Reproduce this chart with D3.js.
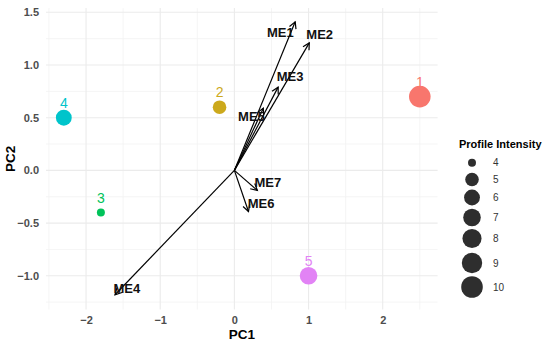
<!DOCTYPE html>
<html>
<head>
<meta charset="utf-8">
<script src="https://cdn.jsdelivr.net/npm/d3@7"></script>
<style>
  body { margin: 0; background: #fff; }
  text { font-family: "Liberation Sans", Arial, sans-serif; }
</style>
</head>
<body>
<script>
// samples (scores)
const sampleIds = ['1', '2', '3', '4', '5']
const pc1 = [2.5, -0.2, -1.8, -2.3, 1.0]
const pc2 = [0.7, 0.6, -0.4, 0.5, -1.0]
const intensity = [10, 5, 4, 6, 7]
const sampleColors = ['#F8766D', '#CCA91C', '#00C35A', '#00C4CB', '#E283F5']

// loadings (arrows)
const loadNames = ['ME1', 'ME2', 'ME3', 'ME4', 'ME5', 'ME6', 'ME7']
const loadX = [0.82, 1.01, 0.59, -1.61, 0.39, 0.19, 0.31]
const loadY = [1.41, 1.21, 0.79, -1.18, 0.59, -0.39, -0.19]
const labelX = [0.62, 1.15, 0.75, -1.45, 0.23, 0.36, 0.45]
const labelY = [1.31, 1.29, 0.89, -1.12, 0.51, -0.31, -0.11]

// axes + legend
const xTicks = [-2, -1, 0, 1, 2]
const yTicks = [-1.0, -0.5, 0.0, 0.5, 1.0, 1.5]
const legendBreaks = [4, 5, 6, 7, 8, 9, 10]

const width = 550
const height = 344

const svg = d3.select('body')
  .append('svg')
  .attr('width', width)
  .attr('height', height)

const x = d3.scaleLinear().domain([-2.54, 2.74]).range([46, 437.6])
const y = d3.scaleLinear().domain([-1.32, 1.54]).range([309.5, 8.1])
const r = d3.scaleSqrt().domain([0, 6]).range([4, 10.8])

// grid
const grid = svg.append('g')
const minorX = d3.range(-2.5, 2.75, 1)
const minorY = d3.range(-1.25, 1.5, 0.5)
grid.selectAll('.mx').data(minorX).enter().append('line')
  .attr('x1', d => x(d)).attr('x2', d => x(d))
  .attr('y1', y.range()[0]).attr('y2', y.range()[1])
  .attr('stroke', '#F2F2F2').attr('stroke-width', 0.8)
grid.selectAll('.my').data(minorY).enter().append('line')
  .attr('y1', d => y(d)).attr('y2', d => y(d))
  .attr('x1', x.range()[0]).attr('x2', x.range()[1])
  .attr('stroke', '#F2F2F2').attr('stroke-width', 0.8)
grid.selectAll('.gx').data(xTicks).enter().append('line')
  .attr('x1', d => x(d)).attr('x2', d => x(d))
  .attr('y1', y.range()[0]).attr('y2', y.range()[1])
  .attr('stroke', '#EBEBEB').attr('stroke-width', 1.1)
grid.selectAll('.gy').data(yTicks).enter().append('line')
  .attr('y1', d => y(d)).attr('y2', d => y(d))
  .attr('x1', x.range()[0]).attr('x2', x.range()[1])
  .attr('stroke', '#EBEBEB').attr('stroke-width', 1.1)

// axes
const xAxis = svg.append('g')
  .attr('transform', `translate(0,${y.range()[0]})`)
  .call(d3.axisBottom(x).tickValues(xTicks).tickSize(0).tickPadding(7)
    .tickFormat(d => d3.format('d')(d).replace('-', '\u2212')))
const yAxis = svg.append('g')
  .attr('transform', `translate(${x.range()[0]},0)`)
  .call(d3.axisLeft(y).tickValues(yTicks).tickSize(0).tickPadding(7)
    .tickFormat(d => d3.format('.1f')(d).replace('-', '\u2212')))
;[xAxis, yAxis].forEach(a => {
  a.select('.domain').remove()
  a.selectAll('text')
    .attr('fill', '#4D4D4D')
    .style('font-size', '11px')
    .style('font-weight', 'bold')
})

svg.append('text')
  .attr('x', (x.range()[0] + x.range()[1]) / 2)
  .attr('y', 339)
  .attr('text-anchor', 'middle')
  .style('font-size', '13.5px')
  .style('font-weight', 'bold')
  .text('PC1')

svg.append('text')
  .attr('transform', `translate(15,${(y.range()[0] + y.range()[1]) / 2}) rotate(-90)`)
  .attr('text-anchor', 'middle')
  .style('font-size', '13.5px')
  .style('font-weight', 'bold')
  .text('PC2')

// arrow marker
svg.append('defs').append('marker')
  .attr('id', 'head')
  .attr('markerUnits', 'userSpaceOnUse')
  .attr('viewBox', '-8 -5 10 10')
  .attr('refX', 0).attr('refY', 0)
  .attr('markerWidth', 10).attr('markerHeight', 10)
  .attr('orient', 'auto')
  .append('path')
  .attr('d', 'M-6.5,-3.5L0,0L-6.5,3.5')
  .attr('fill', 'none')
  .attr('stroke', '#000')
  .attr('stroke-width', 1.2)

// points
svg.append('g').selectAll('circle')
  .data(sampleIds)
  .enter()
  .append('circle')
  .attr('cx', (d, i) => x(pc1[i]))
  .attr('cy', (d, i) => y(pc2[i]))
  .attr('r', (d, i) => r(intensity[i] - 4))
  .attr('fill', (d, i) => sampleColors[i])

svg.append('g').selectAll('text')
  .data(sampleIds)
  .enter()
  .append('text')
  .attr('x', (d, i) => x(pc1[i]))
  .attr('y', (d, i) => y(pc2[i] + 0.14))
  .attr('dy', '0.35em')
  .attr('text-anchor', 'middle')
  .attr('fill', (d, i) => sampleColors[i])
  .style('font-size', '14px')
  .text(d => d)

// loadings
svg.append('g').selectAll('line')
  .data(loadNames)
  .enter()
  .append('line')
  .attr('x1', x(0)).attr('y1', y(0))
  .attr('x2', (d, i) => x(loadX[i]))
  .attr('y2', (d, i) => y(loadY[i]))
  .attr('stroke', '#000')
  .attr('stroke-width', 1.2)
  .attr('marker-end', 'url(#head)')

svg.append('g').selectAll('text')
  .data(loadNames)
  .enter()
  .append('text')
  .attr('x', (d, i) => x(labelX[i]))
  .attr('y', (d, i) => y(labelY[i]))
  .attr('dy', '0.35em')
  .attr('text-anchor', 'middle')
  .attr('fill', '#111')
  .style('font-size', '13px')
  .style('font-weight', 'bold')
  .text(d => d)

// legend
const legend = svg.append('g')
legend.append('text')
  .attr('x', 459).attr('y', 148)
  .style('font-size', '11px')
  .style('font-weight', 'bold')
  .text('Profile Intensity')

const legendY = [162.7, 179.5, 197.5, 217.5, 238.5, 263, 287]
const rows = legend.selectAll('.row')
  .data(legendBreaks)
  .enter()
  .append('g')
  .attr('transform', (d, i) => `translate(0,${legendY[i]})`)
rows.append('circle')
  .attr('cx', 472)
  .attr('r', d => r(d - 4))
  .attr('fill', '#2E2E2E')
rows.append('text')
  .attr('x', 493)
  .attr('dy', '0.35em')
  .attr('fill', '#333')
  .style('font-size', '10px')
  .text(d => d)
</script>
</body>
</html>
